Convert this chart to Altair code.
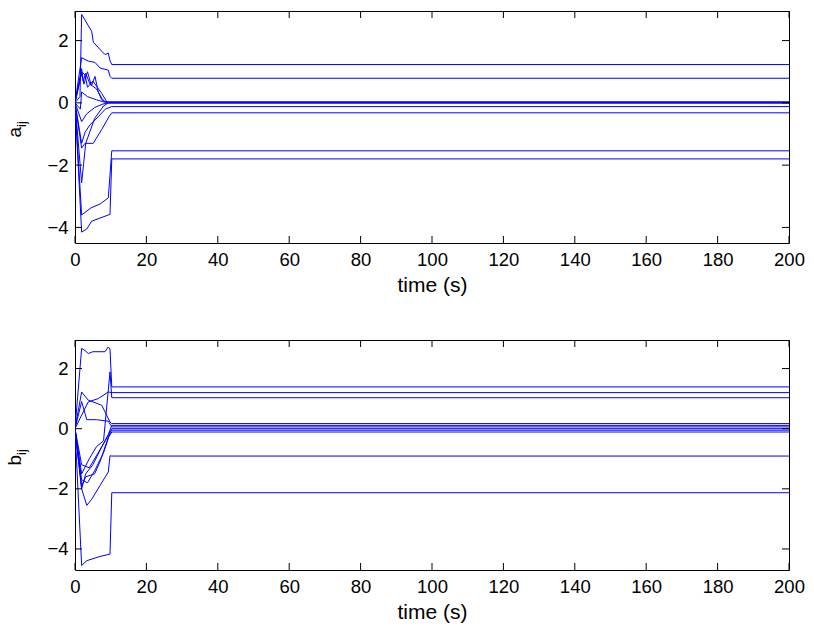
import altair as alt
import pandas as pd

BLUE = "#0000ff"
X_TICKS = list(range(0, 201, 20))
Y_TICKS = [-4, -2, 0, 2]
X_DOMAIN = [0, 200]
A_YDOMAIN = [-4.5, 2.95]
B_YDOMAIN = [-4.7, 2.95]
X_TITLE = "time (s)"

# a_ij trajectories (time, value)
A01 = [(0, 0), (1.4, 0.2), (1.86, 2.84), (4.66, 2.30), (5.13, 1.95), (7.46, 1.66), (8.4, 1.55), (9.33, 1.60), (9.8, 1.35), (10.3, 1.23), (200, 1.23)]
A02 = [(0, 0), (1.86, 1.45), (3.7, 1.34), (5.6, 1.30), (7.0, 1.12), (9.33, 1.05), (9.8, 0.85), (10.3, 0.79), (200, 0.79)]
A03 = [(0, 0), (1.86, 0.95), (2.5, 0.6), (3.5, 1.0), (4.6, 0.55), (5.6, 0.85), (6.5, 0.35), (7.5, 0.1), (8.8, 0.0), (200, 0.0)]
A04 = [(0, 0), (1.86, 1.0), (2.8, 0.9), (3.5, 0.5), (5.0, 0.7), (7.5, 0.3), (9.0, 0.02), (200, 0.02)]
A05 = [(0, 0), (1.86, -0.6), (3.3, -0.35), (5.5, -0.15), (7.5, -0.05), (9.0, 0.0), (200, 0.0)]
A06 = [(0, 0), (1.86, -1.3), (2.8, -0.95), (4.2, -0.7), (6.5, -0.45), (8.5, -0.2), (10.3, -0.12), (200, -0.12)]
A07 = [(0, 0), (1.86, -1.45), (2.8, -1.3), (5.1, -1.3), (7.5, -0.85), (9.5, -0.45), (10.3, -0.32), (200, -0.32)]
A08 = [(0, 0), (1.86, -2.57), (3.0, -1.3), (5.5, -0.5), (8.0, -0.1), (9.3, 0.0), (200, 0.0)]
A09 = [(0, 0), (1.86, -3.6), (4.5, -3.37), (7.0, -3.25), (9.33, -3.05), (10.3, -1.54), (200, -1.54)]
A10 = [(0, 0), (1.86, -4.15), (3.3, -4.05), (4.66, -3.8), (7.0, -3.7), (9.8, -3.58), (10.3, -1.80), (200, -1.80)]
A11 = [(0, 0), (1.86, 1.1), (2.3, 0.7), (3.0, 0.95), (4.2, 0.6), (6.0, 0.45), (7.5, 0.15), (8.5, 0.02), (200, 0.02)]
A12 = [(0, 0), (1.5, -0.2), (1.86, 0.35), (3.5, 0.2), (6.0, 0.1), (8.0, 0.03), (200, 0.03)]
A_LINES = [A01, A02, A03, A04, A05, A06, A07, A08, A09, A10, A11, A12]

# b_ij trajectories (time, value)
B01 = [(0, 0), (1.86, 2.67), (2.8, 2.6), (3.7, 2.5), (5.0, 2.56), (8.4, 2.56), (9.3, 2.72), (9.8, 2.65), (10.3, 1.39), (200, 1.39)]
B02 = [(0, 0), (1.86, -4.55), (3.3, -4.39), (7.0, -4.25), (9.8, -4.17), (10.3, -2.13), (200, -2.13)]
B03 = [(0, 0), (1.86, 1.22), (3.7, 0.95), (7.5, 0.78), (9.8, 0.22), (10.3, 0.17), (200, 0.17)]
B04 = [(0, 0), (1.86, 0.45), (3.7, 0.89), (6.5, 1.0), (9.33, 1.22), (10.3, 1.2), (200, 1.2)]
B05 = [(0, 0), (1.86, -1.5), (4.0, -1.0), (6.0, -0.6), (8.0, -0.4), (9.8, 1.89), (10.3, 1.03), (200, 1.03)]
B06 = [(0, 0), (1.86, -2.0), (3.3, -2.55), (4.66, -2.35), (7.0, -1.89), (9.33, -1.44), (9.8, -0.9), (10.3, -0.91), (200, -0.91)]
B07 = [(0, 0), (1.86, -2.0), (3.0, -1.5), (5.0, -1.2), (7.5, -0.6), (9.3, -0.2), (10.3, 0.11), (200, 0.11)]
B08 = [(0, 0), (1.86, 0.9), (3.3, 0.3), (6.0, 0.3), (9.3, 0.25), (10.3, 0.06), (200, 0.06)]
B09 = [(0, 0), (1.86, -1.7), (3.5, -1.8), (5.5, -1.4), (8.0, -0.8), (9.8, -0.15), (10.3, -0.05), (200, -0.05)]
B10 = [(0, 0), (1.86, -1.9), (3.0, -1.6), (5.5, -1.5), (7.0, -1.1), (9.3, -0.3), (10.3, -0.11), (200, -0.11)]
B11 = [(0, 0), (1.86, -1.2), (4.0, -1.3), (6.0, -0.9), (8.5, -0.4), (10.3, 0.0), (200, 0.0)]
B_LINES = [B01, B02, B03, B04, B05, B06, B07, B08, B09, B10, B11]

FONT = "Liberation Sans"
W = 714
TICK = 7


def to_frame(lines, prefix):
    rows = []
    for i, line in enumerate(lines):
        for k, (t, v) in enumerate(line):
            rows.append({"id": f"{prefix}{i}", "t": t, "v": v, "o": k})
    return pd.DataFrame(rows)


def panel(df, ydom, sym, height):
    xs = alt.Scale(domain=X_DOMAIN, nice=False, zero=False)
    ys = alt.Scale(domain=ydom, nice=False, zero=False)
    x_bottom = alt.Axis(orient="bottom", values=X_TICKS, title=X_TITLE, domain=False, grid=False,
                        ticks=False, tickSize=0, labelFontSize=18.5, labelFont=FONT,
                        labelColor="black", labelPadding=7, labelFlush=False,
                        titleFont=FONT, titleFontSize=21, titleFontWeight="normal",
                        titleColor="black", titlePadding=6)
    y_left = alt.Axis(orient="left", values=Y_TICKS, title="", domain=False, grid=False,
                      ticks=False, tickSize=0, labelFontSize=18.5, labelFont=FONT,
                      labelColor="black", labelPadding=7, labelFlush=False)

    lines = alt.Chart(df).mark_line(color=BLUE, strokeWidth=1, clip=True).encode(
        x=alt.X("t:Q", scale=xs, axis=x_bottom),
        y=alt.Y("v:Q", scale=ys, axis=y_left),
        detail="id:N",
        order="o:Q",
    )

    xt = pd.DataFrame({"xt": X_TICKS})
    yt = pd.DataFrame({"yt": Y_TICKS})
    rule = dict(color="black", strokeWidth=1)
    xb = alt.Chart(xt).mark_rule(**rule).encode(
        x=alt.X("xt:Q", scale=xs, axis=x_bottom), y=alt.value(height), y2=alt.value(height - TICK))
    xtp = alt.Chart(xt).mark_rule(**rule).encode(
        x=alt.X("xt:Q", scale=xs, axis=x_bottom), y=alt.value(0), y2=alt.value(TICK))
    yl = alt.Chart(yt).mark_rule(**rule).encode(
        y=alt.Y("yt:Q", scale=ys, axis=y_left), x=alt.value(0), x2=alt.value(TICK))
    yr = alt.Chart(yt).mark_rule(**rule).encode(
        y=alt.Y("yt:Q", scale=ys, axis=y_left), x=alt.value(W), x2=alt.value(W - TICK))

    lab = pd.DataFrame({"s": [sym], "sub": ["ij"]})
    main_txt = alt.Chart(lab).mark_text(angle=270, align="left", baseline="alphabetic",
                                        fontSize=19, font=FONT, color="black").encode(
        x=alt.value(-54.3), y=alt.value(height / 2 + 10.5), text="s:N")
    sub_txt = alt.Chart(lab).mark_text(angle=270, align="left", baseline="alphabetic",
                                       fontSize=13, font=FONT, color="black").encode(
        x=alt.value(-49.3), y=alt.value(height / 2), text="sub:N")
    return alt.layer(lines, xb, xtp, yl, yr, main_txt, sub_txt).properties(width=W, height=height)


top = panel(to_frame(A_LINES, "a"), A_YDOMAIN, "a", 232)
bottom = panel(to_frame(B_LINES, "b"), B_YDOMAIN, "b", 230)

chart = alt.vconcat(top, bottom, spacing=97, bounds="flush").properties(
    padding={"left": 5, "top": 10, "right": 5, "bottom": 5}, background="white"
).configure_view(stroke="black", strokeWidth=1)

chart.save("out.html", embed_options={"renderer": "svg", "actions": False})
